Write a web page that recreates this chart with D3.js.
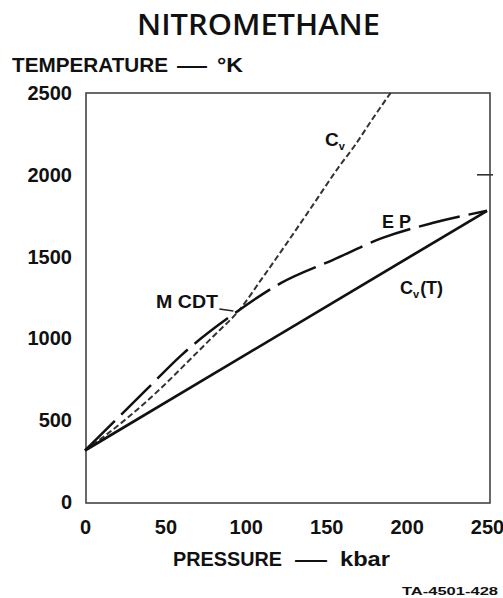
<!DOCTYPE html>
<html>
<head>
<meta charset="utf-8">
<script src="https://cdn.jsdelivr.net/npm/d3@7"></script>
<style>
  html, body { margin: 0; padding: 0; background: #fff; }
  svg { display: block; }
  text { font-family: "Liberation Sans", Arial, Helvetica, sans-serif; font-weight: bold; fill: #111; }
</style>
</head>
<body>
<svg id="chart" width="503" height="598"></svg>
<script>
// ---- data ----
const pressureTicks = [0, 50, 100, 150, 200, 250];
const temperatureTicks = [0, 500, 1000, 1500, 2000, 2500];

// C_v(T) solid line
const cjP = [0, 250];
const cjT = [315, 1780];

// E P long-dashed curve
const epP = [0, 38, 60, 96, 122, 154, 185, 216, 250];
const epT = [315, 685, 898, 1174, 1339, 1479, 1614, 1705, 1780];

// C_v short-dashed curve
const cvP = [0, 27, 48, 65, 80, 96, 110, 125, 140, 158, 168, 178, 190];
const cvT = [315, 519, 703, 868, 1015, 1174, 1365, 1575, 1790, 2050, 2182, 2330, 2500];

// M CDT point
const mcdtP = [96];
const mcdtT = [1174];

// ---- layout ----
const svg = d3.select("#chart");
const x = d3.scaleLinear().domain([0, 250]).range([85, 487]);
const y = d3.scaleLinear().domain([0, 2500]).range([502, 93]);

// frame
svg.append("rect")
  .attr("x", 86).attr("y", y(2500))
  .attr("width", 404).attr("height", y(0) - y(2500) + 1)
  .attr("fill", "none").attr("stroke", "#444").attr("stroke-width", 1.6);

// small tick on right border
svg.append("line")
  .attr("x1", 477).attr("x2", 493)
  .attr("y1", y(2000)).attr("y2", y(2000))
  .attr("stroke", "#333").attr("stroke-width", 1.6);

// axes (labels only)
const yAxis = svg.append("g")
  .attr("transform", "translate(72,0)")
  .call(d3.axisLeft(y).tickValues(temperatureTicks).tickSize(0).tickPadding(0).tickFormat(d3.format("d")));
yAxis.select(".domain").remove();
yAxis.selectAll("text").style("font-size", "20px").attr("fill", "#111");

const xAxis = svg.append("g")
  .attr("transform", "translate(0," + y(0) + ")")
  .call(d3.axisBottom(x).tickValues(pressureTicks).tickSize(0).tickPadding(18).tickFormat(d3.format("d")));
xAxis.select(".domain").remove();
xAxis.selectAll("text").style("font-size", "20px").attr("fill", "#111");

// lines
const line = d3.line().x(d => x(d[0])).y(d => y(d[1]));
const smooth = d3.line().x(d => x(d[0])).y(d => y(d[1])).curve(d3.curveMonotoneX);

svg.append("path")
  .datum(cvP.map((p, i) => [p, cvT[i]]))
  .attr("d", smooth)
  .attr("fill", "none").attr("stroke", "#333").attr("stroke-width", 2)
  .attr("stroke-dasharray", "6,3");

svg.append("path")
  .datum(epP.map((p, i) => [p, epT[i]]))
  .attr("d", smooth)
  .attr("fill", "none").attr("stroke", "#111").attr("stroke-width", 2.5)
  .attr("stroke-dasharray", "42,9");

svg.append("path")
  .datum(cjP.map((p, i) => [p, cjT[i]]))
  .attr("d", line)
  .attr("fill", "none").attr("stroke", "#111").attr("stroke-width", 2.7);

// M CDT leader
svg.append("line")
  .attr("x1", x(mcdtP[0]) - 20).attr("y1", y(mcdtT[0]) - 1)
  .attr("x2", x(mcdtP[0]) - 6).attr("y2", y(mcdtT[0]) + 1)
  .attr("stroke", "#222").attr("stroke-width", 1.6);

// curve labels
const cv = svg.append("text").attr("x", 325).attr("y", 146).style("font-size", "19px");
cv.append("tspan").text("C");
cv.append("tspan").attr("dy", 4).style("font-size", "11px").text("v");

svg.append("text").attr("x", 382).attr("y", 228).style("font-size", "18px").text("E P");
svg.append("text").attr("x", 156).attr("y", 308)
  .attr("textLength", 62).attr("lengthAdjust", "spacingAndGlyphs")
  .style("font-size", "18px").text("M CDT");

const cvt = svg.append("text").attr("x", 400).attr("y", 294).style("font-size", "18px");
cvt.append("tspan").text("C");
cvt.append("tspan").attr("dy", 4).style("font-size", "11px").text("v");
cvt.append("tspan").attr("dy", -4).attr("dx", 1).text("(T)");

// titles
svg.append("text").attr("x", 137).attr("y", 35)
  .attr("textLength", 243).attr("lengthAdjust", "spacingAndGlyphs")
  .style("font-family", "'Open Sans', sans-serif").style("font-weight", "600").style("font-size", "29px")
  .text("NITROMETHANE");

function piece(txt, x0, x1, yb, size) {
  svg.append("text").attr("x", x0).attr("y", yb)
    .attr("textLength", x1 - x0).attr("lengthAdjust", "spacingAndGlyphs")
    .style("font-size", size + "px").text(txt);
}
piece("TEMPERATURE", 12, 168, 72, 20);
piece("—", 177, 207, 72, 20);
piece("°K", 217, 243, 72, 20);

piece("PRESSURE", 173, 282, 566, 20);
piece("—", 295, 327, 566, 20);
piece("kbar", 340, 390, 566, 20);

svg.append("text").attr("x", 402).attr("y", 595)
  .attr("textLength", 96).attr("lengthAdjust", "spacingAndGlyphs")
  .style("font-size", "11px")
  .text("TA-4501-428");
</script>
</body>
</html>
